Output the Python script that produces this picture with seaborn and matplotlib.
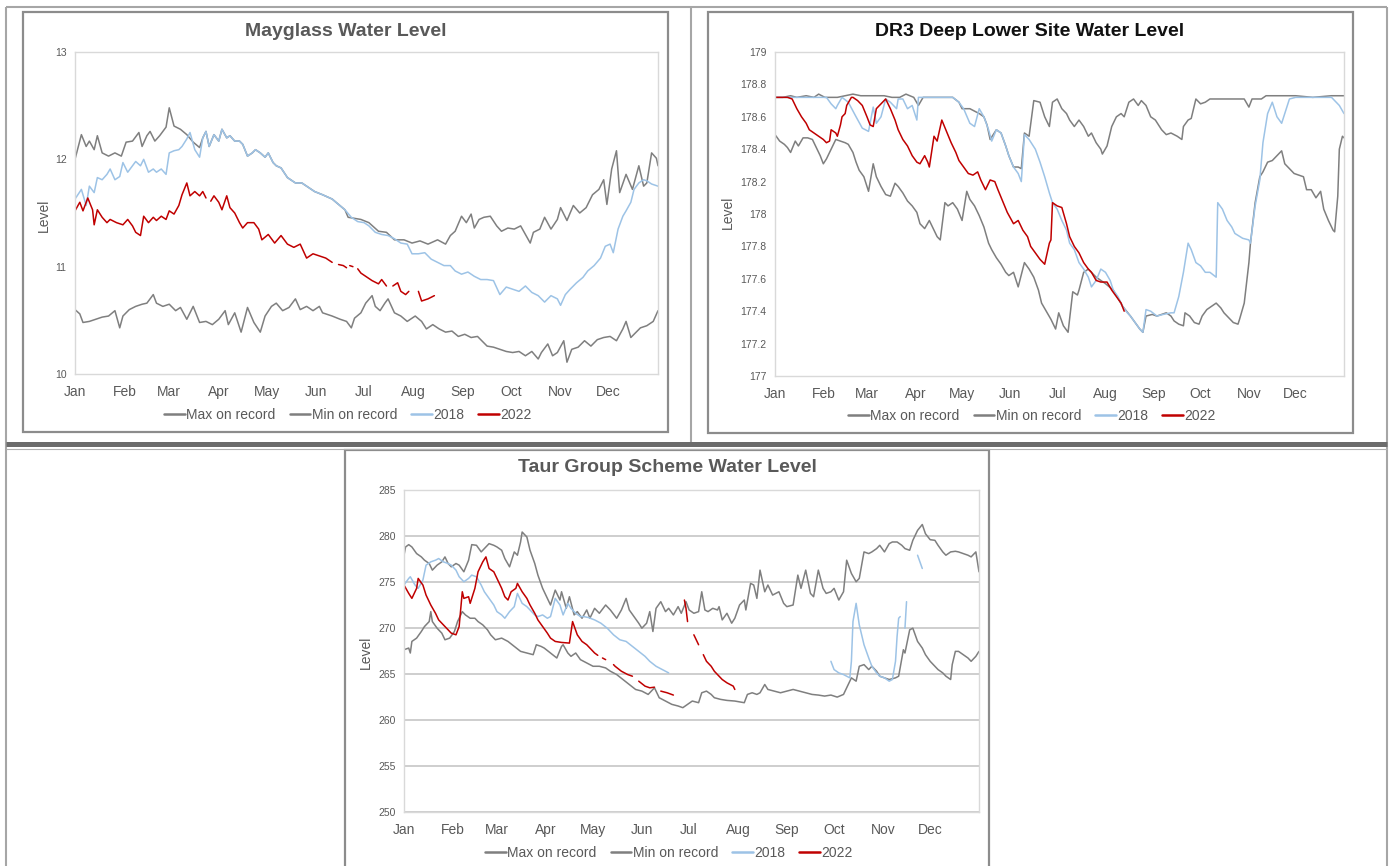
"""
Water level charts (Mayglass, DR3 Deep Lower Site, Taur Group Scheme)
"""
import matplotlib
matplotlib.use('Agg')
import matplotlib.pyplot as plt
from matplotlib.lines import Line2D
from matplotlib.patches import Rectangle
import seaborn as sns
import pandas as pd
import numpy as np

sns.set_style('white')
plt.rcParams['font.family'] = ['Liberation Sans', 'DejaVu Sans']

NA = np.nan

months = ['Jan', 'Feb', 'Mar', 'Apr', 'May', 'Jun', 'Jul', 'Aug', 'Sep', 'Oct', 'Nov', 'Dec']
month_start = [0, 31, 59, 90, 120, 151, 181, 212, 243, 273, 304, 334]
series_names = ['Max on record', 'Min on record', '2018', '2022']

# ---- Mayglass (day of year, level) ----
may_max = [(0, 12.00), (4, 12.23), (7, 12.12), (9, 12.17), (12, 12.09), (14, 12.22), (17, 12.06), (21, 12.03),
           (25, 12.06), (29, 12.03), (32, 12.16), (36, 12.17), (40, 12.25), (42, 12.12), (45, 12.22), (47, 12.26),
           (50, 12.17), (53, 12.22), (57, 12.30), (59, 12.48), (62, 12.31), (66, 12.28), (70, 12.23), (74, 12.16),
           (78, 12.11), (80, 12.20), (82, 12.26), (84, 12.12), (87, 12.23), (90, 12.17), (92, 12.28), (95, 12.20),
           (97, 12.22), (100, 12.17), (103, 12.17), (105, 12.14), (108, 12.03), (111, 12.06), (113, 12.09),
           (116, 12.06), (119, 12.02), (121, 12.06), (124, 11.97), (126, 11.94), (129, 11.92), (133, 11.83),
           (136, 11.80), (138, 11.78), (142, 11.78), (146, 11.74), (150, 11.70), (155, 11.67), (161, 11.63),
           (165, 11.58), (169, 11.53), (171, 11.46), (179, 11.44), (184, 11.41), (190, 11.33), (195, 11.32),
           (200, 11.25), (206, 11.25), (211, 11.22), (216, 11.24), (221, 11.21), (227, 11.25), (232, 11.21),
           (235, 11.29), (238, 11.33), (242, 11.47), (245, 11.41), (248, 11.49), (250, 11.36), (253, 11.44),
           (256, 11.46), (260, 11.47), (264, 11.38), (267, 11.33), (271, 11.36), (275, 11.35), (279, 11.38),
           (282, 11.30), (285, 11.22), (287, 11.32), (291, 11.35), (294, 11.46), (298, 11.35), (302, 11.44),
           (304, 11.55), (308, 11.43), (312, 11.57), (316, 11.50), (320, 11.55), (324, 11.67), (328, 11.72),
           (331, 11.81), (333, 11.58), (336, 11.91), (339, 12.08), (341, 11.69), (345, 11.86), (349, 11.72),
           (353, 11.94), (356, 11.75), (358, 11.78), (361, 12.06), (364, 12.01), (365, 11.94)]
may_min = [(0, 10.60), (3, 10.56), (5, 10.48), (9, 10.49), (13, 10.51), (17, 10.53), (21, 10.54), (25, 10.59),
           (28, 10.43), (30, 10.54), (34, 10.60), (38, 10.63), (42, 10.65), (45, 10.66), (49, 10.74), (51, 10.66),
           (55, 10.63), (59, 10.65), (63, 10.59), (66, 10.62), (70, 10.51), (74, 10.63), (78, 10.48), (82, 10.49),
           (86, 10.46), (90, 10.51), (94, 10.59), (96, 10.46), (100, 10.57), (104, 10.39), (108, 10.62),
           (112, 10.48), (116, 10.39), (119, 10.54), (123, 10.63), (126, 10.66), (130, 10.59), (134, 10.62),
           (138, 10.70), (141, 10.60), (145, 10.63), (149, 10.59), (153, 10.63), (155, 10.57), (161, 10.54),
           (166, 10.51), (170, 10.49), (173, 10.43), (175, 10.52), (179, 10.57), (182, 10.66), (186, 10.73),
           (188, 10.63), (191, 10.59), (194, 10.66), (196, 10.70), (200, 10.57), (204, 10.54), (208, 10.49),
           (213, 10.54), (217, 10.49), (220, 10.42), (224, 10.46), (228, 10.42), (232, 10.39), (236, 10.40),
           (240, 10.35), (244, 10.37), (248, 10.34), (252, 10.35), (256, 10.29), (258, 10.26), (262, 10.25),
           (266, 10.23), (270, 10.21), (274, 10.20), (278, 10.21), (282, 10.17), (286, 10.21), (290, 10.14),
           (292, 10.20), (296, 10.28), (299, 10.17), (302, 10.20), (306, 10.31), (308, 10.11), (311, 10.23),
           (315, 10.25), (319, 10.31), (323, 10.26), (327, 10.32), (331, 10.34), (335, 10.35), (339, 10.31),
           (343, 10.42), (345, 10.49), (348, 10.34), (352, 10.40), (354, 10.43), (358, 10.45), (362, 10.49),
           (365, 10.59)]
may_2018 = [(0, 11.63), (4, 11.72), (7, 11.57), (9, 11.75), (12, 11.69), (14, 11.83), (17, 11.81), (20, 11.86),
            (22, 11.91), (25, 11.81), (28, 11.84), (30, 11.97), (33, 11.88), (36, 11.94), (38, 11.98), (41, 11.94),
            (43, 12.00), (46, 11.88), (49, 11.91), (51, 11.88), (54, 11.91), (57, 11.86), (59, 12.06), (62, 12.08),
            (65, 12.09), (67, 12.12), (70, 12.19), (72, 12.25), (75, 12.09), (78, 12.02), (80, 12.20), (82, 12.26),
            (84, 12.12), (87, 12.23), (90, 12.17), (92, 12.28), (95, 12.20), (97, 12.22), (100, 12.17),
            (103, 12.17), (105, 12.14), (108, 12.03), (111, 12.06), (113, 12.09), (116, 12.06), (119, 12.02),
            (121, 12.06), (124, 11.97), (126, 11.94), (129, 11.92), (133, 11.83), (136, 11.80), (138, 11.78),
            (142, 11.78), (146, 11.74), (150, 11.70), (155, 11.67), (161, 11.63), (165, 11.58), (169, 11.53),
            (173, 11.46), (177, 11.42), (181, 11.41), (184, 11.38), (188, 11.32), (192, 11.30), (196, 11.29),
            (200, 11.26), (204, 11.22), (208, 11.21), (211, 11.12), (215, 11.12), (219, 11.13), (223, 11.07),
            (227, 11.04), (231, 11.01), (235, 11.01), (238, 10.96), (242, 10.93), (246, 10.95), (250, 10.91),
            (254, 10.88), (258, 10.88), (262, 10.87), (266, 10.74), (270, 10.81), (274, 10.79), (278, 10.77),
            (282, 10.82), (286, 10.76), (290, 10.73), (294, 10.67), (298, 10.73), (302, 10.70), (304, 10.64),
            (307, 10.74), (310, 10.79), (314, 10.85), (318, 10.90), (321, 10.96), (325, 11.01), (329, 11.08),
            (332, 11.19), (335, 11.21), (337, 11.13), (340, 11.35), (343, 11.47), (345, 11.52), (348, 11.60),
            (350, 11.72), (353, 11.78), (356, 11.81), (358, 11.80), (361, 11.77), (365, 11.75)]
may_2022 = [(0, 11.52), (3, 11.60), (5, 11.52), (8, 11.64), (11, 11.53), (12, 11.39), (14, 11.53), (17, 11.46),
            (20, 11.41), (22, 11.44), (26, 11.41), (30, 11.39), (33, 11.44), (36, 11.38), (38, 11.32), (41, 11.29),
            (43, 11.47), (46, 11.41), (49, 11.46), (51, 11.43), (54, 11.47), (57, 11.44), (59, 11.52), (62, 11.49),
            (65, 11.57), (67, 11.67), (70, 11.78), (72, 11.66), (75, 11.70), (78, 11.66), (80, 11.70), (82, 11.64),
            (83, NA), (85, 11.61), (87, 11.66), (90, 11.60), (92, 11.53), (95, 11.66), (97, 11.55), (100, 11.50),
            (103, 11.41), (105, 11.36), (108, 11.41), (112, 11.41), (115, 11.35), (117, 11.25), (121, 11.30),
            (125, 11.22), (129, 11.29), (133, 11.21), (137, 11.18), (141, 11.21), (145, 11.08), (149, 11.12),
            (153, 11.10), (157, 11.08), (161, 11.04), (163, NA), (165, 11.02), (168, 11.01), (170, 10.99),
            (171, NA), (172, 11.01), (174, 11.00), (175, NA), (177, 10.98), (179, 10.94), (182, 10.91),
            (186, 10.87), (190, 10.84), (192, 10.88), (195, 10.82), (197, NA), (199, 10.82), (202, 10.85),
            (204, 10.77), (207, 10.74), (209, 10.77), (211, NA), (215, 10.77), (217, 10.68), (221, 10.70),
            (225, 10.73)]

# ---- DR3 Deep Lower Site ----
dr3_max = [(0, 178.72), (5, 178.72), (10, 178.73), (14, 178.72), (20, 178.73), (25, 178.72), (28, 178.74),
           (32, 178.72), (36, 178.72), (40, 178.72), (45, 178.73), (50, 178.74), (55, 178.73), (60, 178.73),
           (70, 178.73), (75, 178.72), (80, 178.72), (84, 178.74), (89, 178.72), (92, 178.67), (95, 178.72),
           (111, 178.72), (114, 178.72), (118, 178.69), (120, 178.65), (125, 178.65), (131, 178.62),
           (134, 178.60), (136, 178.55), (138, 178.46), (142, 178.52), (145, 178.50), (148, 178.42),
           (150, 178.36), (153, 178.29), (156, 178.29), (158, 178.28), (160, 178.50), (163, 178.48),
           (166, 178.70), (170, 178.69), (173, 178.60), (176, 178.54), (178, 178.69), (181, 178.71),
           (184, 178.65), (187, 178.62), (189, 178.58), (192, 178.54), (195, 178.58), (198, 178.54),
           (201, 178.48), (203, 178.50), (206, 178.44), (209, 178.40), (210, 178.37), (213, 178.42),
           (216, 178.54), (219, 178.60), (222, 178.62), (224, 178.60), (227, 178.69), (230, 178.71),
           (233, 178.67), (235, 178.70), (238, 178.67), (241, 178.60), (244, 178.58), (248, 178.52),
           (251, 178.49), (254, 178.50), (258, 178.48), (261, 178.46), (262, 178.54), (265, 178.58),
           (267, 178.59), (270, 178.71), (273, 178.68), (276, 178.69), (279, 178.71), (290, 178.71),
           (301, 178.71), (304, 178.66), (306, 178.71), (312, 178.71), (315, 178.73), (334, 178.73),
           (345, 178.72), (357, 178.73), (365, 178.73)]
dr3_min = [(0, 178.49), (3, 178.45), (6, 178.43), (8, 178.41), (10, 178.38), (13, 178.45), (15, 178.42),
           (18, 178.47), (21, 178.47), (24, 178.46), (26, 178.42), (29, 178.36), (31, 178.31), (33, 178.34),
           (36, 178.40), (39, 178.46), (42, 178.45), (45, 178.44), (47, 178.43), (50, 178.38), (52, 178.32),
           (54, 178.27), (57, 178.23), (60, 178.14), (63, 178.31), (65, 178.23), (68, 178.17), (71, 178.12),
           (74, 178.11), (77, 178.19), (79, 178.17), (82, 178.13), (85, 178.08), (88, 178.05), (91, 178.01),
           (93, 177.94), (96, 177.91), (99, 177.96), (102, 177.90), (104, 177.86), (106, 177.84), (109, 178.07),
           (111, 178.05), (114, 178.07), (117, 178.03), (120, 177.96), (123, 178.14), (125, 178.09),
           (128, 178.05), (131, 177.99), (134, 177.92), (137, 177.82), (139, 177.78), (142, 177.73),
           (145, 177.69), (148, 177.64), (150, 177.62), (153, 177.64), (156, 177.55), (160, 177.70),
           (163, 177.66), (166, 177.61), (169, 177.53), (171, 177.45), (174, 177.40), (177, 177.35),
           (180, 177.29), (182, 177.39), (185, 177.31), (188, 177.27), (191, 177.52), (194, 177.50),
           (195, 177.53), (198, 177.64), (201, 177.66), (203, 177.64), (206, 177.61), (212, 177.57),
           (217, 177.53), (223, 177.43), (228, 177.37), (234, 177.29), (236, 177.27), (238, 177.37),
           (242, 177.38), (245, 177.37), (248, 177.38), (251, 177.39), (254, 177.37), (256, 177.34),
           (259, 177.32), (262, 177.31), (263, 177.39), (266, 177.37), (269, 177.33), (272, 177.32),
           (274, 177.37), (277, 177.41), (280, 177.43), (283, 177.45), (286, 177.42), (288, 177.39),
           (291, 177.36), (294, 177.33), (297, 177.32), (298, 177.35), (301, 177.45), (304, 177.70),
           (305, 177.82), (308, 178.07), (311, 178.23), (313, 178.26), (316, 178.32), (319, 178.33),
           (322, 178.36), (325, 178.39), (327, 178.31), (330, 178.28), (333, 178.25), (336, 178.24),
           (339, 178.23), (341, 178.15), (344, 178.15), (347, 178.10), (350, 178.14), (352, 178.03),
           (355, 177.96), (358, 177.90), (359, 177.89), (361, 178.11), (362, 178.40), (364, 178.48),
           (365, 178.47)]
dr3_2018 = [(0, 178.72), (33, 178.72), (36, 178.68), (39, 178.65), (40, 178.67), (43, 178.72), (47, 178.69),
            (52, 178.60), (56, 178.53), (60, 178.51), (63, 178.66), (65, 178.56), (68, 178.60), (71, 178.71),
            (74, 178.69), (78, 178.65), (79, 178.71), (82, 178.71), (85, 178.65), (88, 178.67), (91, 178.58),
            (92, 178.72), (95, 178.72), (111, 178.72), (114, 178.72), (118, 178.69), (121, 178.65),
            (125, 178.56), (128, 178.54), (131, 178.65), (134, 178.60), (137, 178.52), (139, 178.45),
            (142, 178.52), (145, 178.50), (148, 178.42), (150, 178.36), (153, 178.29), (156, 178.25),
            (158, 178.20), (160, 178.49), (163, 178.46), (167, 178.40), (170, 178.32), (173, 178.23),
            (176, 178.13), (178, 178.07), (181, 178.03), (184, 177.96), (187, 177.90), (189, 177.82),
            (192, 177.78), (195, 177.70), (198, 177.66), (201, 177.61), (203, 177.55), (206, 177.59),
            (209, 177.66), (212, 177.64), (215, 177.59), (217, 177.53), (220, 177.49), (223, 177.43),
            (226, 177.39), (228, 177.37), (231, 177.33), (234, 177.29), (236, 177.27), (238, 177.41),
            (241, 177.40), (245, 177.37), (249, 177.38), (254, 177.39), (256, 177.39), (259, 177.49),
            (262, 177.64), (265, 177.82), (267, 177.78), (270, 177.70), (273, 177.68), (276, 177.64),
            (279, 177.64), (283, 177.61), (284, 178.07), (287, 178.03), (290, 177.96), (293, 177.92),
            (295, 177.88), (300, 177.85), (304, 177.84), (305, 177.82), (308, 178.05), (311, 178.21),
            (313, 178.44), (316, 178.62), (319, 178.69), (322, 178.60), (325, 178.56), (327, 178.62),
            (330, 178.71), (334, 178.72), (357, 178.72), (362, 178.67), (365, 178.62)]
dr3_2022 = [(0, 178.72), (4, 178.72), (8, 178.72), (11, 178.71), (14, 178.65), (17, 178.60), (20, 178.56),
            (22, 178.52), (25, 178.50), (28, 178.48), (31, 178.46), (33, 178.44), (35, 178.45), (36, 178.52),
            (39, 178.50), (40, 178.48), (42, 178.55), (43, 178.60), (45, 178.62), (46, 178.67), (49, 178.72),
            (50, 178.72), (53, 178.70), (56, 178.67), (59, 178.60), (61, 178.55), (63, 178.54), (65, 178.65),
            (68, 178.68), (71, 178.71), (74, 178.65), (77, 178.58), (79, 178.52), (82, 178.46), (85, 178.42),
            (88, 178.36), (91, 178.32), (93, 178.31), (96, 178.36), (98, 178.32), (99, 178.29), (102, 178.48),
            (104, 178.45), (107, 178.58), (110, 178.51), (113, 178.44), (116, 178.38), (118, 178.33),
            (121, 178.29), (124, 178.25), (127, 178.24), (130, 178.26), (132, 178.21), (135, 178.15),
            (138, 178.21), (141, 178.20), (143, 178.15), (146, 178.08), (149, 178.01), (153, 177.94),
            (156, 177.96), (159, 177.90), (162, 177.86), (164, 177.80), (167, 177.76), (170, 177.72),
            (173, 177.69), (176, 177.82), (177, 177.84), (178, 178.07), (181, 178.05), (184, 178.04),
            (187, 177.94), (189, 177.86), (192, 177.80), (195, 177.76), (198, 177.70), (201, 177.66),
            (203, 177.64), (206, 177.59), (209, 177.58), (213, 177.58), (216, 177.53), (219, 177.49),
            (222, 177.45), (224, 177.40)]

# ---- Taur Group Scheme ----
taur_max = [(0, 277.91), (1, 278.81), (3, 279.06), (5, 278.81), (8, 278.09), (11, 277.73), (13, 277.37),
            (16, 277.01), (18, 276.29), (21, 276.83), (24, 277.19), (26, 277.73), (28, 277.01), (30, 276.65),
            (33, 277.01), (35, 276.83), (38, 276.11), (41, 277.37), (43, 279.06), (46, 278.99), (49, 278.27),
            (51, 278.63), (54, 279.17), (57, 278.99), (59, 278.81), (62, 278.45), (64, 277.55), (67, 276.65),
            (70, 278.27), (72, 277.91), (74, 279.35), (75, 280.43), (78, 279.89), (80, 278.45), (83, 277.01),
            (85, 275.75), (88, 274.31), (91, 273.22), (93, 272.50), (96, 274.12), (99, 273.04), (100, 273.94),
            (103, 272.14), (105, 273.40), (108, 271.42), (110, 271.78), (113, 271.06), (116, 271.96),
            (118, 271.06), (121, 272.14), (124, 271.60), (128, 272.50), (131, 271.96), (135, 271.06),
            (138, 271.96), (141, 273.22), (143, 271.96), (146, 271.24), (149, 270.52), (151, 269.98),
            (154, 270.52), (156, 271.78), (158, 269.62), (160, 272.14), (163, 272.86), (166, 271.78),
            (168, 272.14), (171, 271.42), (174, 272.32), (176, 271.60), (179, 272.86), (181, 271.96),
            (184, 271.60), (187, 271.78), (189, 273.94), (191, 271.96), (193, 271.78), (196, 272.14),
            (199, 271.96), (200, 272.32), (202, 270.88), (205, 271.60), (208, 270.52), (210, 271.06),
            (213, 272.50), (216, 273.04), (217, 271.96), (220, 274.85), (222, 274.67), (224, 273.22),
            (226, 276.29), (229, 273.94), (231, 274.67), (234, 273.58), (238, 273.94), (241, 272.68),
            (243, 272.32), (247, 272.50), (250, 275.75), (252, 274.31), (255, 276.29), (258, 273.76),
            (260, 273.40), (263, 276.29), (266, 274.31), (268, 273.76), (271, 273.94), (273, 274.31),
            (276, 273.04), (279, 273.94), (281, 277.37), (284, 275.93), (287, 275.03), (289, 275.39),
            (292, 278.27), (295, 278.09), (297, 278.27), (300, 278.63), (302, 278.99), (305, 278.27),
            (308, 279.17), (310, 279.35), (313, 279.35), (316, 278.99), (318, 278.63), (321, 278.45),
            (323, 279.53), (326, 280.61), (329, 281.25), (331, 280.25), (334, 279.60), (337, 279.53),
            (339, 278.99), (342, 278.27), (344, 277.91), (347, 278.27), (350, 278.34), (352, 278.27),
            (355, 278.09), (358, 277.91), (360, 277.73), (363, 278.27), (365, 276.11)]
taur_min = [(0, 267.64), (3, 267.82), (4, 267.28), (5, 268.54), (8, 268.90), (11, 269.62), (13, 270.16),
            (16, 270.70), (17, 271.78), (18, 270.70), (21, 269.98), (24, 269.44), (26, 268.72), (29, 268.90),
            (32, 269.62), (34, 270.70), (37, 271.78), (39, 271.42), (42, 271.06), (45, 271.06), (47, 270.70),
            (50, 270.34), (53, 269.80), (55, 269.26), (58, 268.72), (62, 268.90), (66, 268.54), (70, 268.00),
            (74, 267.46), (78, 267.28), (82, 267.10), (84, 268.18), (87, 268.00), (89, 267.82), (93, 267.28),
            (97, 266.74), (100, 268.00), (101, 268.18), (104, 267.28), (106, 266.92), (109, 267.28),
            (112, 266.56), (116, 266.20), (120, 265.84), (124, 265.84), (128, 265.66), (131, 265.30),
            (135, 264.94), (139, 264.40), (143, 263.86), (147, 263.32), (151, 263.14), (155, 262.78),
            (159, 263.50), (162, 262.42), (166, 262.06), (170, 261.70), (174, 261.52), (177, 261.34),
            (180, 261.70), (183, 262.06), (187, 261.88), (189, 262.96), (192, 263.14), (195, 262.78),
            (197, 262.42), (201, 262.24), (205, 262.13), (210, 262.06), (216, 261.88), (218, 262.78),
            (221, 262.96), (224, 262.78), (226, 262.96), (229, 263.86), (231, 263.32), (235, 263.14),
            (239, 262.96), (243, 263.14), (247, 263.32), (251, 263.14), (255, 262.96), (259, 262.78),
            (263, 262.71), (267, 262.60), (271, 262.71), (275, 262.49), (279, 262.78), (281, 263.50),
            (284, 264.58), (287, 264.22), (289, 265.84), (292, 266.02), (295, 265.48), (297, 265.84),
            (300, 265.30), (302, 264.76), (305, 264.58), (308, 264.40), (312, 264.58), (314, 264.76),
            (317, 267.64), (318, 267.28), (321, 269.80), (323, 269.98), (326, 268.54), (329, 267.82),
            (331, 267.10), (334, 266.38), (337, 265.84), (339, 265.48), (342, 265.12), (344, 264.76),
            (347, 264.40), (348, 266.02), (350, 267.46), (352, 267.46), (355, 267.10), (358, 266.74),
            (360, 266.38), (363, 266.92), (365, 267.46)]
taur_2018 = [(0, 274.67), (3, 275.39), (4, 275.57), (7, 274.67), (9, 274.31), (12, 275.21), (14, 276.83),
             (17, 277.19), (20, 277.37), (22, 277.55), (25, 277.19), (28, 277.01), (30, 276.83), (33, 276.29),
             (35, 275.57), (38, 275.03), (41, 275.39), (43, 275.75), (46, 275.57), (49, 274.67), (51, 273.94),
             (54, 273.22), (57, 272.50), (59, 271.78), (62, 271.42), (64, 271.06), (67, 271.78), (70, 272.32),
             (72, 273.76), (75, 272.68), (78, 272.32), (80, 271.96), (83, 271.42), (85, 271.24), (88, 271.42),
             (91, 271.06), (93, 271.24), (96, 273.22), (99, 272.50), (101, 271.42), (104, 272.68),
             (106, 272.14), (109, 271.60), (112, 271.24), (114, 271.24), (117, 271.14), (121, 270.88),
             (125, 270.52), (129, 269.98), (133, 269.26), (137, 268.72), (141, 268.54), (145, 268.00),
             (149, 267.46), (153, 266.92), (156, 266.38), (160, 265.84), (164, 265.48), (168, 265.12),
             (169, NA), (271, 266.38), (273, 265.48), (276, 265.12), (279, 264.94), (283, 264.58),
             (284, 266.38), (285, 270.70), (287, 272.68), (289, 270.34), (292, 268.18), (295, 266.74),
             (297, 265.84), (300, 265.12), (302, 264.76), (305, 264.58), (308, 264.22), (310, 264.40),
             (312, 266.38), (313, 269.08), (314, 271.06), (315, 271.24), (316, NA), (318, 269.98),
             (319, 272.86), (320, NA), (326, 277.91), (329, 276.47)]
taur_2022 = [(0, 274.67), (3, 273.76), (5, 273.22), (8, 274.31), (9, 275.39), (12, 274.67), (14, 273.58),
             (17, 272.50), (20, 271.60), (22, 270.88), (25, 270.34), (28, 269.80), (30, 269.44), (33, 269.26),
             (35, 270.16), (37, 273.94), (38, 273.22), (41, 273.40), (42, 272.68), (45, 274.31), (47, 276.11),
             (50, 277.19), (52, 277.73), (54, 276.47), (57, 276.11), (59, 275.39), (62, 274.31), (64, 273.40),
             (66, 273.04), (68, 273.94), (71, 274.31), (72, 274.85), (75, 273.94), (78, 273.22), (80, 272.50),
             (83, 271.60), (85, 270.88), (88, 270.16), (91, 269.44), (93, 268.90), (96, 268.54), (100, 268.43),
             (105, 268.36), (107, 270.70), (110, 269.26), (113, 268.54), (116, 268.18), (118, 267.82),
             (121, 267.28), (123, 267.03), (124, NA), (126, 266.74), (128, 266.56), (130, NA), (133, 266.02),
             (134, 265.84), (138, 265.30), (142, 264.94), (145, 264.76), (147, NA), (149, 264.22),
             (153, 263.68), (156, 263.50), (159, 263.57), (161, NA), (163, 263.14), (167, 262.96),
             (171, 262.71), (172, NA), (178, 273.04), (179, 272.14), (180, 270.70), (182, NA), (184, 269.26),
             (187, 268.18), (188, NA), (190, 267.10), (192, 266.38), (195, 265.84), (197, 265.30),
             (200, 264.76), (202, 264.40), (205, 264.04), (209, 263.68), (210, 263.32)]

line_colors = ['#7f7f7f', '#7f7f7f', '#9dc3e6', '#c00000']

W, H = 1393, 866
fig = plt.figure(figsize=(W / 100, H / 100), dpi=100)
fig.patch.set_facecolor('white')


def fig_rect(left, top, right, bottom):
    return [left / W, 1 - bottom / H, (right - left) / W, (bottom - top) / H]


def fig_line(x0, y0, x1, y1, color, lw):
    fig.add_artist(Line2D([x0 / W, x1 / W], [1 - y0 / H, 1 - y1 / H],
                          transform=fig.transFigure, color=color, lw=lw, solid_capstyle='butt'))


def to_frame(points):
    """split a series at NaN so seaborn leaves gaps"""
    rows, seg = [], 0
    for d, v in points:
        if np.isnan(v):
            seg += 1
            continue
        rows.append((d, v, seg))
    return pd.DataFrame(rows, columns=['day', 'level', 'seg'])


def draw_chart(rect, series, ylim, yticks, title, title_pos, title_color,
               level_pos, legend_pos, grid=False):
    ax = fig.add_axes(fig_rect(*rect))
    for pts, c in zip(series, line_colors):
        df = to_frame(pts)
        sns.lineplot(data=df, x='day', y='level', units='seg', estimator=None, sort=False,
                     color=c, lw=1.1, ax=ax, legend=False)
    ax.set_xlim(0, 365)
    ax.set_ylim(*ylim)
    ax.set_xticks(month_start)
    ax.set_xticklabels(months)
    ax.set_yticks(yticks)
    ax.set_yticklabels([f'{v:g}' for v in yticks])
    ax.set_xlabel('')
    ax.set_ylabel('')
    ax.tick_params(axis='x', length=0, labelsize=10, colors='#595959', pad=8)
    ax.tick_params(axis='y', length=0, labelsize=7.5, colors='#595959', pad=6)
    for s in ax.spines.values():
        s.set_color('#d9d9d9')
        s.set_linewidth(1.0)
    if grid:
        ax.yaxis.grid(True, color='#c6c6c6', lw=1.2)
        ax.set_axisbelow(True)
    fig.text(title_pos[0] / W, 1 - title_pos[1] / H, title, ha='center', va='center',
             fontsize=14, fontweight='bold', color=title_color)
    fig.text(level_pos[0] / W, 1 - level_pos[1] / H, 'Level', rotation=90, ha='center',
             va='center', fontsize=10, color='#595959')
    handles = [Line2D([], [], color=c, lw=1.8) for c in line_colors]
    leg = ax.legend(handles, series_names, loc='center', ncol=4, frameon=False,
                    bbox_to_anchor=(legend_pos[0] / W, 1 - legend_pos[1] / H),
                    bbox_transform=fig.transFigure, fontsize=10, handlelength=1.5,
                    handletextpad=0.1, columnspacing=1.0)
    for t in leg.get_texts():
        t.set_color('#595959')
    return ax


draw_chart((75, 52, 658, 374), [may_max, may_min, may_2018, may_2022], (10, 13), [10, 11, 12, 13],
           'Mayglass Water Level', (346, 31), '#595959', (44, 215), (348, 415))
draw_chart((775, 52, 1344, 376), [dr3_max, dr3_min, dr3_2018, dr3_2022], (177, 179),
           [177, 177.2, 177.4, 177.6, 177.8, 178, 178.2, 178.4, 178.6, 178.8, 179],
           'DR3 Deep Lower Site Water Level', (1030, 31), '#111111', (728, 212), (1032, 416))
draw_chart((404, 490, 979, 812), [taur_max, taur_min, taur_2018, taur_2022], (250, 285),
           [250, 255, 260, 265, 270, 275, 280, 285],
           'Taur Group Scheme Water Level', (667, 467), '#595959', (366, 652), (669, 853), grid=True)

# table borders and chart frames
fig_line(6, 7, 1387, 7, '#a6a6a6', 1.5)
fig_line(6, 7, 6, 866, '#a6a6a6', 1.5)
fig_line(1387, 7, 1387, 866, '#a6a6a6', 1.5)
fig_line(691, 7, 691, 442, '#a6a6a6', 1.5)
fig_line(6, 444, 1387, 444, '#6b6b6b', 3.6)
fig_line(6, 449, 1387, 449, '#b0b0b0', 0.8)
for l, t, r, b in [(23, 12, 668, 432), (708, 12, 1353, 433), (345, 450, 989, 870)]:
    fig.add_artist(Rectangle((l / W, 1 - b / H), (r - l) / W, (b - t) / H, transform=fig.transFigure,
                             fill=False, edgecolor='#8c8c8c', lw=1.6))

plt.savefig('out.png', dpi=100, facecolor='white')
